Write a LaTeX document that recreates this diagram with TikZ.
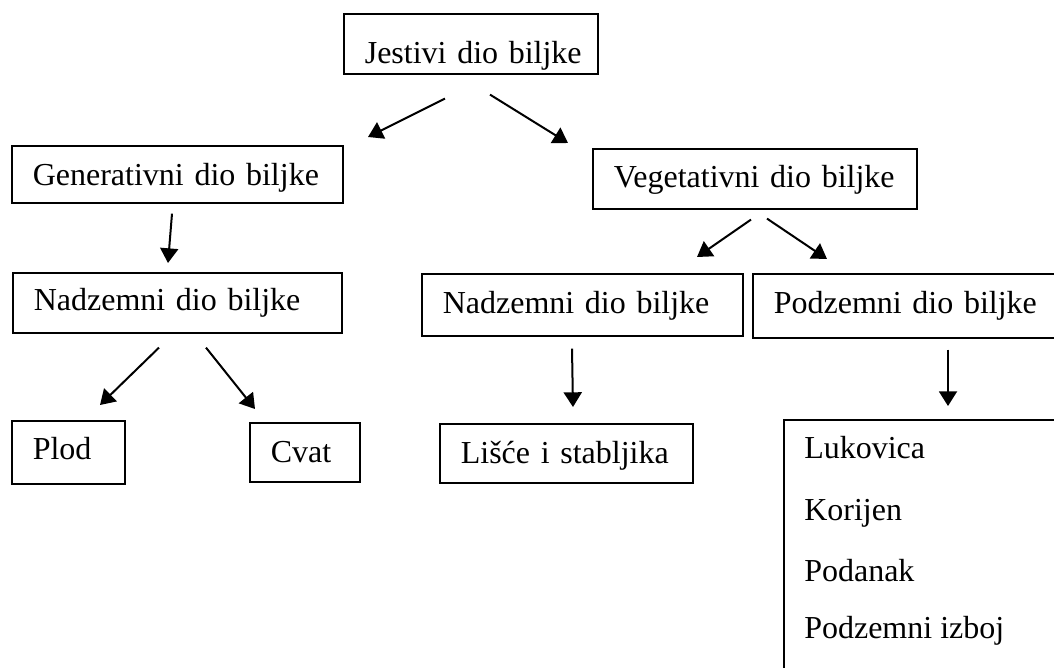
\documentclass[tikz,border=0pt]{standalone}
\usepackage{fontspec}
\setmainfont{Liberation Serif}
\usetikzlibrary{arrows.meta,calc}
\begin{document}
\begin{tikzpicture}[x=0.75pt,y=-0.75pt,
  box/.style={draw, line width=1.2pt, anchor=north west, inner xsep=15.75pt, inner ysep=0pt, align=left, font=\fontsize{24}{28}\selectfont},
  arr/.style={line width=1.5pt, -{Triangle[length=11pt,width=13.5pt]}},
  item/.style={anchor=base west, inner sep=0pt, font=\fontsize{24}{28}\selectfont}]
\fill[white] (0,0) rectangle (1054,668);
\useasboundingbox (0,0) rectangle (1054,668);
\clip (0,0) rectangle (1054,668);
% boxes
\node[box, text width=159pt, text height=37.5pt, text depth=7.5pt] (jest) at (343,13) {\mbox{Jestivi dio biljke}};
\node[box, text width=216.75pt, text height=30pt, text depth=12.75pt] (gen) at (11,145) {\mbox{Generativni dio biljke}};
\node[box, text width=215.25pt, text height=28.5pt, text depth=16.5pt] (nadL) at (12,272) {\mbox{Nadzemni dio biljke}};
\node[box, text width=211.5pt, text height=29.25pt, text depth=15.75pt] (veg) at (592,148) {\mbox{Vegetativni dio biljke}};
\node[box, text width=209.25pt, text height=30pt, text depth=16.5pt] (nadR) at (421,273) {\mbox{Nadzemni dio biljke}};
\node[box, text width=240pt, text height=30pt, text depth=18pt] (pod) at (752,273) {\mbox{Podzemni dio biljke}};
\node[box, text width=53.25pt, text height=29.25pt, text depth=18pt] (plod) at (11,420) {\mbox{Plod}};
\node[box, text width=51pt, text height=30pt, text depth=14.25pt] (cvat) at (249,422) {\mbox{Cvat}};
\node[box, text width=158.25pt, text height=30pt, text depth=14.25pt] (lisce) at (439,423) {\mbox{Lišće i stabljika}};
\node[draw, line width=1.2pt, anchor=north west, inner sep=0pt, minimum width=240pt, minimum height=210pt] (list) at (783,419) {};
\node[item] (l1) at (804,458) {Lukovica};
\node[item] (l2) at (804,520) {Korijen};
\node[item] (l3) at (804,581) {Podanak};
\node[item] (l4) at (804,638) {Podzemni izboj};
% arrows
\draw[arr] ($(jest.south west)+(102,24)$) -- ($(gen.north west)+(357,-8)$);
\draw[arr] ($(jest.south west)+(147,20)$) -- ($(veg.north west)+(-24,-5)$);
\draw[arr] ($(gen.south west)+(161,10)$) -- ($(nadL.north west)+(156,-9)$);
\draw[arr] ($(nadL.south west)+(147,14)$) -- ($(plod.north west)+(89,-15)$);
\draw[arr] ($(nadL.south west)+(194,14)$) -- ($(cvat.north west)+(6,-13)$);
\draw[arr] ($(veg.south west)+(159,10)$) -- ($(nadR.north west)+(276,-16)$);
\draw[arr] ($(veg.south west)+(175,9)$) -- ($(pod.north west)+(75,-14)$);
\draw[arr] ($(nadR.south west)+(151,12)$) -- ($(lisce.north west)+(134,-16)$);
\draw[arr] ($(pod.south west)+(196,11)$) -- ($(list.north west)+(165,-13)$);
\end{tikzpicture}
\end{document}
